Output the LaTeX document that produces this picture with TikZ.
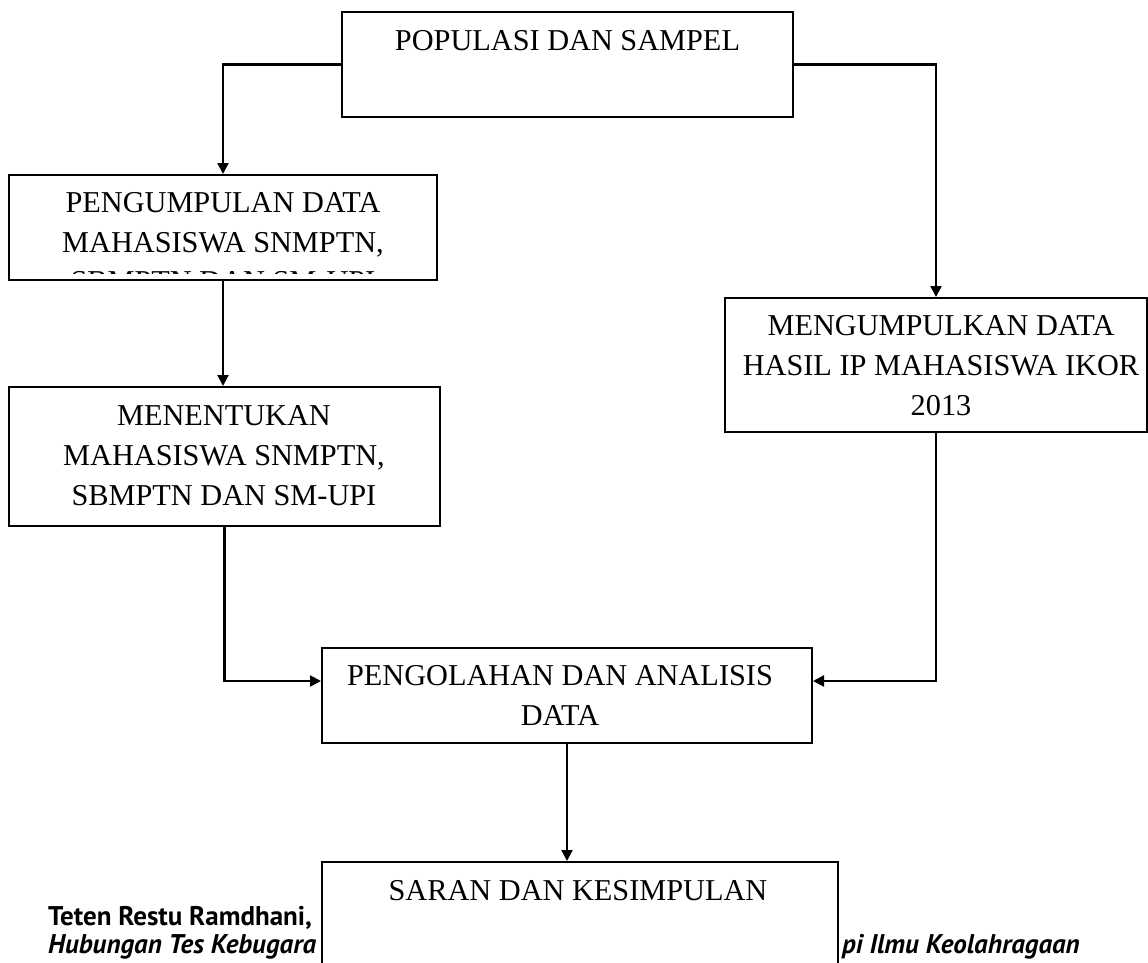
\documentclass[tikz,border=0pt]{standalone}
\usepackage{fontspec}
\setmainfont{Liberation Serif}
\newfontfamily\footfont{PT Sans}
\usetikzlibrary{arrows.meta}
\begin{document}
\begin{tikzpicture}[x=1pt,y=-1pt,
  boxnode/.style={draw=black,line width=2pt,fill=white,rectangle,inner sep=0pt},
  txt/.style={anchor=north,align=center,inner sep=0pt,font=\fontsize{30.3}{40}\selectfont},
  arr/.style={line width=2.2pt,-{Triangle[length=11pt,width=11pt]}},
  foot/.style={anchor=base west,inner sep=0pt,font=\footfont\fontsize{27}{30}\selectfont\bfseries}]
\useasboundingbox (0,0) rectangle (1148,962);
% footer text
\node[foot] (f1) at (48,925) {Teten Restu Ramdhani,};
\node[foot] (f2) at (48,953) {\itshape Hubungan Tes Kebugara};
\node[foot] (f3) at (842,953) {\itshape pi Ilmu Keolahragaan};
% boxes
\node[boxnode,minimum width=451pt,minimum height=105pt] (b1) at (567.5,64.5) {};
\node[boxnode,minimum width=428pt,minimum height=105pt] (b2) at (223,227.5) {};
\node[boxnode,minimum width=431pt,minimum height=139pt] (b3) at (224.5,456.5) {};
\node[boxnode,minimum width=422pt,minimum height=134pt] (b4) at (936,365) {};
\node[boxnode,minimum width=490pt,minimum height=95pt] (b5) at (567,695.5) {};
\node[boxnode,minimum width=516pt,minimum height=128pt] (b6) at (580,926) {};
% texts
\node[txt] (t1) at (567.5,30) {POPULASI DAN SAMPEL};
\node[txt] (t2) at (223,192) {PENGUMPULAN DATA\\MAHASISWA SNMPTN,};
\begin{scope}
  \clip (11,177) rectangle (435,273.5);
  \node[txt] (t2b) at (223,271) {SBMPTN DAN SM-UPI};
\end{scope}
\node[txt] (t3) at (224,405) {MENENTUKAN\\MAHASISWA SNMPTN,\\SBMPTN DAN SM-UPI};
\node[txt] (t4) at (941,315) {MENGUMPULKAN DATA\\HASIL IP MAHASISWA IKOR\\2013};
\node[txt] (t5) at (560,665) {PENGOLAHAN DAN ANALISIS\\DATA};
\node[txt] (t6) at (578,880) {SARAN DAN KESIMPULAN};
% connectors
\draw[arr] (b1.west) -| (b2.north);
\draw[arr] (b1.east) -| (b4.north);
\draw[arr] (b2.south) -- (b2.south |- b3.north);
\draw[arr] (b3.south) |- ([yshift=14.5pt]b5.west);
\draw[arr] (b4.south) |- ([yshift=14.5pt]b5.east);
\draw[arr] (b5.south) -- (b5.south |- b6.north);
\end{tikzpicture}
\end{document}
